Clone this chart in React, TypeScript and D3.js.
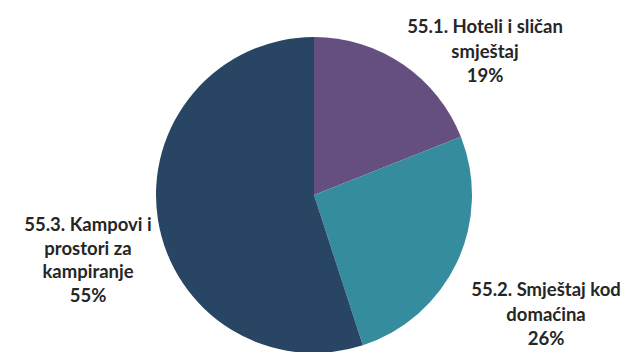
import React from "react";
import * as d3 from "d3";

const categories = ["55.1. Hoteli i sličan smještaj", "55.2. Smještaj kod domaćina", "55.3. Kampovi i prostori za kampiranje"];
const values = [19, 26, 55];
const labelLines = [
  ["55.1. Hoteli i sličan", "smještaj", "19%"],
  ["55.2. Smještaj kod", "domaćina", "26%"],
  ["55.3. Kampovi i", "prostori za", "kampiranje", "55%"],
];
const colors = ["#654f7f", "#368c9f", "#284563"];

const W = 633;
const H = 352;
const CX = 314;
const CY = 195;
const R = 158;
// label block centers (x) and first baseline (y)
const labelPos = [
  { x: 485, y: 33, lh: 24.5 },
  { x: 546, y: 296, lh: 24.5 },
  { x: 88, y: 231, lh: 23.5 },
];

export default function App() {
  const pie = d3.pie<number>().sort(null).value((d) => d);
  const arcs = pie(values);
  const arc = d3.arc<d3.PieArcDatum<number>>().innerRadius(0).outerRadius(R);
  return (
    <svg
      width={W}
      height={H}
      style={{ position: "absolute", left: 0, top: 0, background: "#fff" }}
      fontFamily="Lato, 'Open Sans', sans-serif"
    >
      <g transform={`translate(${CX},${CY})`}>
        {arcs.map((a, i) => (
          <path key={categories[i]} d={arc(a) || ""} fill={colors[i]} />
        ))}
      </g>
      {labelLines.map((lines, i) => (
        <text
          key={categories[i]}
          textAnchor="middle"
          fontSize={18.5}
          fontWeight={700}
          fill="#262626"
        >
          {lines.map((l, j) => (
            <tspan key={j} x={labelPos[i].x} y={labelPos[i].y + j * labelPos[i].lh}>
              {l}
            </tspan>
          ))}
        </text>
      ))}
    </svg>
  );
}
